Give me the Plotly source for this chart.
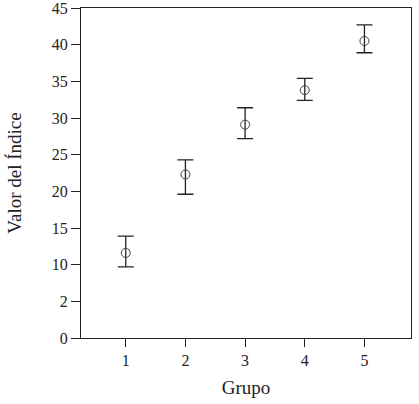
import plotly.graph_objects as go

grupos = [1, 2, 3, 4, 5]
valores = [11.6, 22.3, 29.1, 33.8, 40.5]
error_sup = [2.3, 2.0, 2.3, 1.6, 2.2]
error_inf = [1.9, 2.7, 1.9, 1.4, 1.6]

y_ticks = [0, 5, 10, 15, 20, 25, 30, 35, 40, 45]
y_labels = ["0", "2", "10", "15", "20", "25", "30", "35", "40", "45"]

ink = "#222222"

fig = go.Figure(
    go.Scatter(
        x=grupos,
        y=valores,
        mode="markers",
        marker=dict(symbol="circle-open", size=9, color="#444444", line=dict(width=1)),
        error_y=dict(
            type="data",
            symmetric=False,
            array=error_sup,
            arrayminus=error_inf,
            color=ink,
            thickness=1.3,
            width=8,
        ),
        showlegend=False,
    )
)

fig.update_layout(
    width=419,
    height=404,
    margin=dict(l=81, r=8, t=8, b=66, autoexpand=False),
    plot_bgcolor="white",
    paper_bgcolor="white",
    font=dict(family="Liberation Serif", size=16, color=ink),
)

fig.update_xaxes(
    range=[0.25, 5.78],
    tickvals=grupos,
    ticks="outside",
    ticklen=8,
    tickcolor=ink,
    tickwidth=1.3,
    showline=True,
    linecolor=ink,
    linewidth=1.3,
    mirror=True,
    showgrid=False,
    zeroline=False,
    automargin=False,
    title=dict(text="Grupo", standoff=12),
)

fig.update_yaxes(
    range=[0, 45],
    tickvals=y_ticks,
    ticktext=y_labels,
    ticks="outside",
    ticklen=9,
    tickcolor=ink,
    tickwidth=1.3,
    ticklabeloverflow="allow",
    showline=True,
    linecolor=ink,
    linewidth=1.3,
    mirror=True,
    showgrid=False,
    zeroline=False,
    automargin=False,
    title=dict(text="Valor del Índice", standoff=25),
)

# the page's default body margin would shift the figure by 8px
fig.write_html(
    "out.html",
    config={"displayModeBar": False},
    post_script="document.body.style.margin = '0';",
)
